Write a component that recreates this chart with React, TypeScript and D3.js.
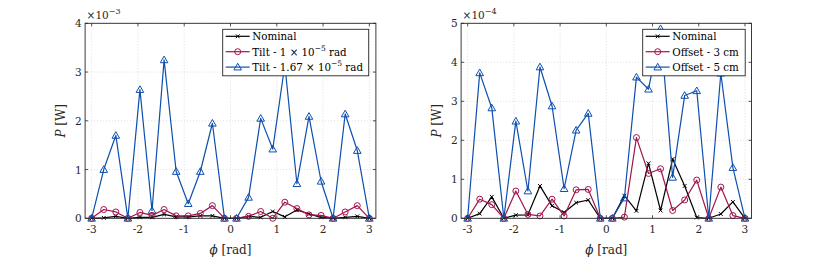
import React from "react";
import * as d3 from "d3";

// phase samples (rad)
const phi = [-3, -2.739, -2.478, -2.217, -1.957, -1.696, -1.435, -1.174, -0.913, -0.652, -0.391, -0.13,
  0.13, 0.391, 0.652, 0.913, 1.174, 1.435, 1.696, 1.957, 2.217, 2.478, 2.739, 3];

// Left panel, values in units of 1e-3 W
const tiltNominal = [0, 0.01, 0.04, 0, 0.02, 0.02, 0.08, 0.03, 0.03, 0.05, 0.05, 0,
  0, 0.04, 0.02, 0.14, 0.03, 0.17, 0.09, 0.02, 0, 0.02, 0.04, 0];
const tiltSmall = [0, 0.18, 0.13, 0, 0.12, 0.06, 0.18, 0.05, 0.05, 0.1, 0.26, 0,
  0, 0.04, 0.14, 0.0, 0.33, 0.2, 0.07, 0.06, 0, 0.13, 0.26, 0];
const tiltLarge = [0, 1.0, 1.7, 0, 2.64, 0.16, 3.25, 0.96, 0.3, 0.96, 1.95, 0,
  0, 0.43, 2.05, 1.42, 3.15, 0.71, 2.09, 0.76, 0, 2.14, 1.39, 0];

// Right panel, values in units of 1e-4 W
const offNominal = [0, 0.12, 0.55, 0, 0.08, 0.09, 0.83, 0.32, 0.15, 0.4, 0.47, 0,
  0, 0.58, 0.19, 1.41, 0.2, 1.52, 0.83, 0.02, 0, 0.11, 0.42, 0];
const off3 = [0, 0.49, 0.35, 0, 0.7, 0.1, 0.06, 0.49, 0.06, 0.73, 0.74, 0,
  0, 0.03, 2.07, 1.15, 1.27, 0.2, 0.47, 0.98, 0, 0.8, 0.07, 0];
const off5 = [0, 3.73, 2.83, 0, 2.49, 0.7, 3.88, 2.88, 0.76, 2.26, 2.69, 0,
  0, 0.52, 3.62, 3.31, 4.86, 1.05, 3.15, 3.27, 0, 3.72, 1.3, 0];

const xTicks = [-3, -2, -1, 0, 1, 2, 3];
const yTicksLeft = [0, 1, 2, 3, 4];
const yTicksRight = [0, 1, 2, 3, 4, 5];

const BLACK = "#000000";
const RED = "#a3134f";
const BLUE = "#0d4fae";
const AX = "#262626";
const SERIF = "'DejaVu Serif', serif";

type Series = { values: number[]; color: string; marker: "x" | "o" | "^"; label: React.ReactNode };

function Marker({ kind, x, y, color }: { kind: string; x: number; y: number; color: string }) {
  if (kind === "o") return <circle cx={x} cy={y} r={3} fill="none" stroke={color} strokeWidth={1} />;
  if (kind === "^") {
    const s = 3.8;
    return (
      <path d={`M${x},${y - s}L${x + s},${y + s * 0.75}L${x - s},${y + s * 0.75}Z`} fill="none" stroke={color} strokeWidth={1} />
    );
  }
  const s = 1.9;
  return (
    <path d={`M${x - s},${y - s}L${x + s},${y + s}M${x - s},${y + s}L${x + s},${y - s}`} stroke={color} strokeWidth={1} />
  );
}

const tStyle = (size: number): React.CSSProperties => ({ fontFamily: SERIF, fontSize: size + "px" });

function Panel({ x0, x1, yMax, yTicks, exp, series, legendX, legendW }: {
  x0: number; x1: number; yMax: number; yTicks: number[]; exp: string; series: Series[]; legendX: number; legendW: number;
}) {
  const top = 23.3, bottom = 218.3;
  const x = d3.scaleLinear().domain([-Math.PI, Math.PI]).range([x0, x1]);
  const y = d3.scaleLinear().domain([0, yMax]).range([bottom, top]);
  const line = d3.line<number>().x((_, i) => x(phi[i])).y((d) => y(d));
  const tl = 3;
  const legendTop = 29.3, rowH = 15.4;
  return (
    <g>
      {xTicks.map((t) => (
        <line key={"gx" + t} x1={x(t)} x2={x(t)} y1={top} y2={bottom} stroke="#d6d6d6" strokeWidth={0.8} strokeDasharray="1,2" />
      ))}
      {yTicks.map((t) => (
        <line key={"gy" + t} x1={x0} x2={x1} y1={y(t)} y2={y(t)} stroke="#d6d6d6" strokeWidth={0.8} strokeDasharray="1,2" />
      ))}
      {series.map((s, si) => (
        <g key={"s" + si}>
          <path d={line(s.values) || ""} fill="none" stroke={s.color} strokeWidth={1.2} strokeLinejoin="round" />
          {s.values.map((v, i) => (
            <Marker key={i} kind={s.marker} x={x(phi[i])} y={y(v)} color={s.color} />
          ))}
        </g>
      ))}
      <rect x={x0} y={top} width={x1 - x0} height={bottom - top} fill="none" stroke={AX} strokeWidth={0.9} />
      {xTicks.map((t) => (
        <g key={"tx" + t}>
          <line x1={x(t)} x2={x(t)} y1={bottom} y2={bottom - tl} stroke={AX} strokeWidth={0.8} />
          <line x1={x(t)} x2={x(t)} y1={top} y2={top + tl} stroke={AX} strokeWidth={0.8} />
          <text x={x(t)} y={bottom + 15} textAnchor="middle" style={tStyle(10.5)} fill={AX}>{t < 0 ? "-" + Math.abs(t) : String(t)}</text>
        </g>
      ))}
      {yTicks.map((t) => (
        <g key={"ty" + t}>
          <line x1={x0} x2={x0 + tl} y1={y(t)} y2={y(t)} stroke={AX} strokeWidth={0.8} />
          <line x1={x1} x2={x1 - tl} y1={y(t)} y2={y(t)} stroke={AX} strokeWidth={0.8} />
          <text x={x0 - 3.5} y={y(t) + 4} textAnchor="end" style={tStyle(10.5)} fill={AX}>{String(t)}</text>
        </g>
      ))}
      <text x={x0 + 1.5} y={18.5} style={tStyle(10.5)} fill={AX}>
        ×10<tspan dy={-4.5} style={tStyle(8)}>{exp}</tspan>
      </text>
      <text x={(x0 + x1) / 2} y={254} textAnchor="middle" style={tStyle(12)} fill={AX}>
        <tspan fontStyle="italic">ϕ</tspan> [rad]
      </text>
      <text transform={`translate(${x0 - 20},${(top + bottom) / 2}) rotate(-90)`} textAnchor="middle" style={tStyle(12)} fill={AX}>
        <tspan fontStyle="italic">P</tspan> [W]
      </text>
      <rect x={legendX} y={legendTop} width={legendW} height={46.5} fill="#ffffff" stroke={AX} strokeWidth={0.9} />
      {series.map((s, si) => {
        const ry = legendTop + 7 + si * rowH;
        return (
          <g key={"l" + si}>
            <line x1={legendX + 3} x2={legendX + 27} y1={ry} y2={ry} stroke={s.color} strokeWidth={1.2} />
            <Marker kind={s.marker} x={legendX + 15} y={ry} color={s.color} />
            <text x={legendX + 29.5} y={ry + 4} style={tStyle(10.3)} fill="#000">{s.label}</text>
          </g>
        );
      })}
    </g>
  );
}

export default function App() {
  const leftSeries: Series[] = [
    { values: tiltNominal, color: BLACK, marker: "x", label: "Nominal" },
    { values: tiltSmall, color: RED, marker: "o", label: (<>Tilt - 1 × 10<tspan dy={-5} style={tStyle(7.5)}>−5</tspan><tspan dy={5}> rad</tspan></>) },
    { values: tiltLarge, color: BLUE, marker: "^", label: (<>Tilt - 1.67 × 10<tspan dy={-5} style={tStyle(7.5)}>−5</tspan><tspan dy={5}> rad</tspan></>) },
  ];
  const rightSeries: Series[] = [
    { values: offNominal, color: BLACK, marker: "x", label: "Nominal" },
    { values: off3, color: RED, marker: "o", label: "Offset - 3 cm" },
    { values: off5, color: BLUE, marker: "^", label: "Offset - 5 cm" },
  ];
  return (
    <svg width={830} height={263} style={{ position: "absolute", left: 0, top: 0, background: "#fff" }}>
      <rect width={830} height={263} fill="#fff" />
      <Panel x0={85.1} x1={375.9} yMax={4} yTicks={yTicksLeft} exp="−3" series={leftSeries} legendX={222.7} legendW={146} />
      <Panel x0={461.1} x1={751.5} yMax={5} yTicks={yTicksRight} exp="−4" series={rightSeries} legendX={642.7} legendW={102.5} />
    </svg>
  );
}
